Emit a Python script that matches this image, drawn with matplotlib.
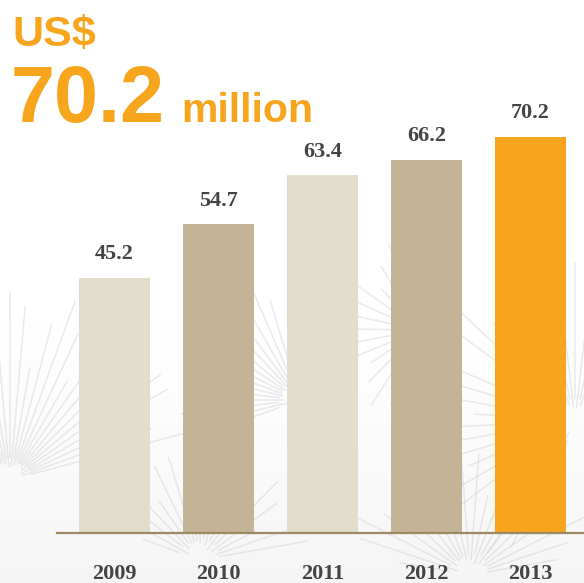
import numpy as np
import matplotlib.pyplot as plt

years = ['2009', '2010', '2011', '2012', '2013']
revenue = [45.2, 54.7, 63.4, 66.2, 70.2]
bar_colors = ['#E3DDCC', '#C4B396', '#E3DDCC', '#C4B396', '#F7A51D']

ORANGE = '#F7A51D'
TEXT = '#444444'

W, H = 584, 583
fig = plt.figure(figsize=(W / 100, H / 100), dpi=100)
fig.patch.set_facecolor('white')

# soft grey haze and pine-needle clusters behind the bars
bg = fig.add_axes([0, 0, 1, 1], zorder=0)
bg.axis('off')
haze = np.linspace(0, 1, 200)[:, None] ** 1.5 * np.ones((1, 2))
bg.imshow(haze, extent=[0, W, H, 280], cmap='Greys', vmin=0, vmax=12,
          aspect='auto', interpolation='bilinear')
clusters = [(10, 480, 190, 150, 345, 40), (300, 400, 120, 160, 300, 22),
            (575, 420, 160, 110, 330, 34), (200, 560, 110, 200, 350, 18),
            (470, 575, 130, 190, 350, 20), (420, 330, 90, 100, 250, 14)]
for cx, cy, length, a0, a1, n in clusters:
    for i, ang in enumerate(np.linspace(np.radians(a0), np.radians(a1), n)):
        r0 = 12 + 10 * abs(np.cos(i * 1.7))
        ln = length * (0.55 + 0.45 * abs(np.sin(i * 2.3)))
        bg.plot([cx + r0 * np.cos(ang), cx + ln * np.cos(ang)],
                [cy + r0 * np.sin(ang), cy + ln * np.sin(ang)],
                color='#CDD0D3', lw=1.1, alpha=0.45, solid_capstyle='round')
bg.set_xlim(0, W)
bg.set_ylim(H, 0)

# bar chart axes in pixel-derived fractions
left, right, bottom, top = 57, 584, 533, 100
ax = fig.add_axes([left / W, (H - bottom) / H, (right - left) / W, (bottom - top) / H], zorder=1)
ax.patch.set_alpha(0)
x = np.arange(len(years))
bars = ax.bar(x, revenue, width=0.683, color=bar_colors, zorder=2)
ax.set_xlim(-0.553, 4.514)
ax.set_ylim(0, (bottom - top) / 5.64)

ax.bar_label(bars, labels=[f'{v:.1f}' for v in revenue], padding=10,
             family='Liberation Serif', fontweight='bold', fontsize=16, color=TEXT)

for s in ['top', 'right', 'left']:
    ax.spines[s].set_visible(False)
ax.spines['bottom'].set_color('#9C8862')
ax.spines['bottom'].set_linewidth(1.6)
ax.spines['bottom'].set_zorder(3)
ax.set_yticks([])
ax.set_xticks(x)
ax.set_xticklabels(years, family='Liberation Serif', fontweight='bold', fontsize=16, color=TEXT)
ax.tick_params(axis='x', length=0, pad=22)

# headline figure
fig.text(12 / W, 1 - 46 / H, 'US$', color=ORANGE, family='Liberation Sans',
         fontweight='bold', fontsize=31, va='baseline', ha='left')
fig.text(11 / W, 1 - 122 / H, '70.2', color=ORANGE, family='Liberation Sans',
         fontweight='bold', fontsize=57, va='baseline', ha='left')
fig.text(181 / W, 1 - 122 / H, 'million', color=ORANGE, family='Liberation Sans',
         fontweight='bold', fontsize=29.5, va='baseline', ha='left')

fig.savefig('out.png', dpi=100, facecolor='white')
